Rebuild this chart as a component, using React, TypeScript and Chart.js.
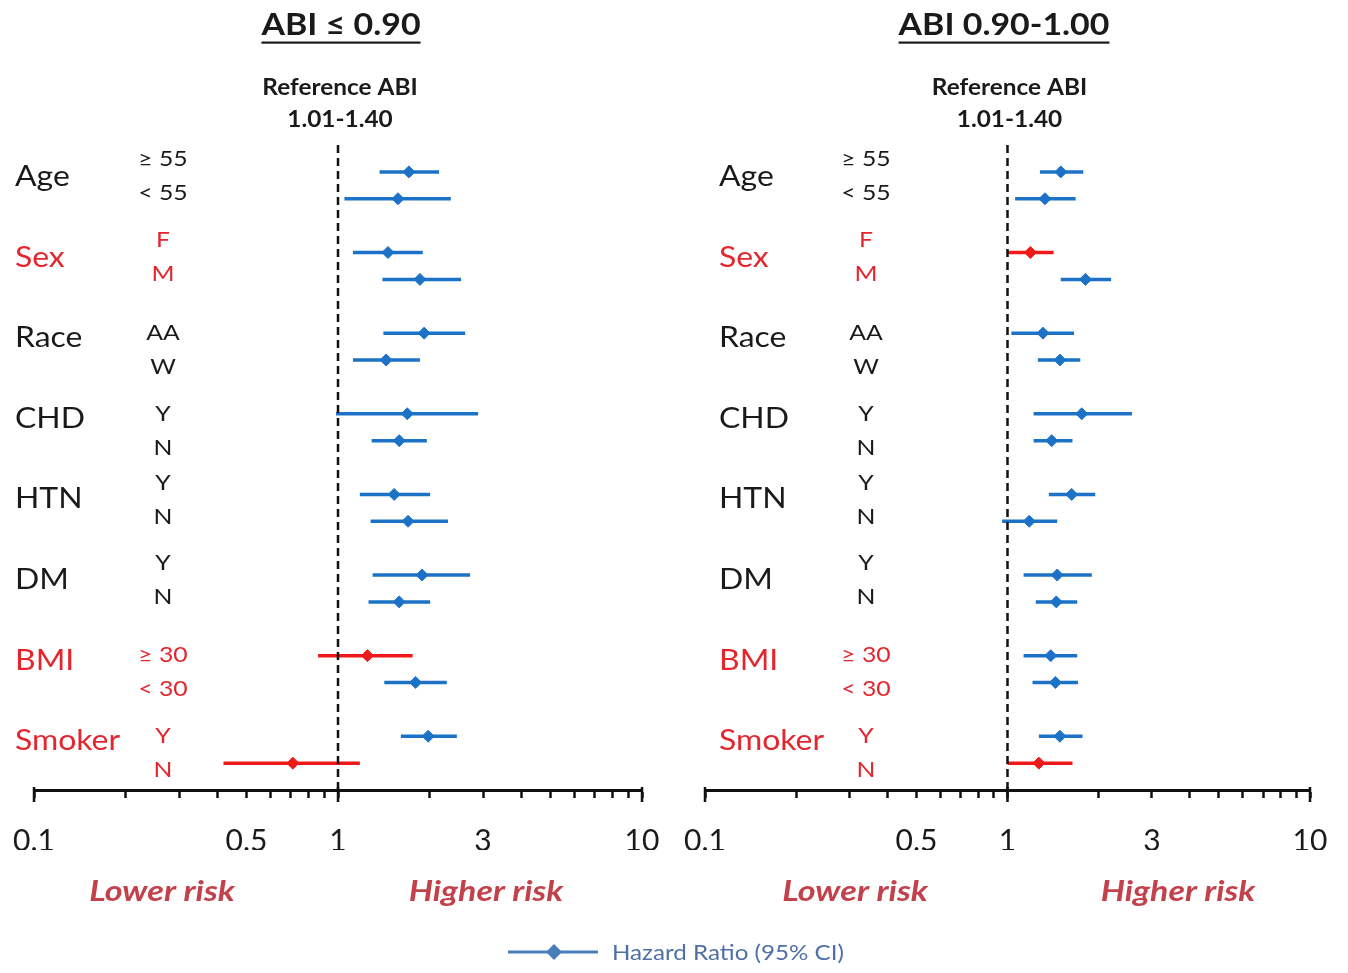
import React, { useEffect, useRef } from "react";
import { Chart, registerables } from "chart.js";

Chart.register(...registerables);

// ---------- DATA ----------
const groups = ["Age", "Sex", "Race", "CHD", "HTN", "DM", "BMI", "Smoker"];
const redGroups = [false, true, false, false, false, false, true, true];
const subLabels = ["≥ 55", "< 55", "F", "M", "AA", "W", "Y", "N", "Y", "N", "Y", "N", "≥ 30", "< 30", "Y", "N"];

// Panel 1: ABI ≤ 0.90
const hr1 = [1.71, 1.575, 1.46, 1.86, 1.92, 1.44, 1.69, 1.59, 1.53, 1.7, 1.89, 1.59, 1.25, 1.8, 1.98, 0.71];
const lo1 = [1.37, 1.05, 1.12, 1.4, 1.41, 1.12, 0.985, 1.29, 1.18, 1.28, 1.3, 1.26, 0.86, 1.42, 1.61, 0.42];
const hi1 = [2.15, 2.35, 1.9, 2.54, 2.62, 1.86, 2.89, 1.96, 2.01, 2.3, 2.72, 2.01, 1.76, 2.28, 2.46, 1.18];
const red1 = [12, 15];

// Panel 2: ABI 0.90-1.00
const hr2 = [1.5, 1.33, 1.19, 1.81, 1.31, 1.49, 1.76, 1.4, 1.63, 1.18, 1.46, 1.45, 1.39, 1.44, 1.49, 1.27];
const lo2 = [1.28, 1.06, 1.0, 1.5, 1.03, 1.26, 1.22, 1.22, 1.37, 0.96, 1.13, 1.24, 1.13, 1.21, 1.27, 1.0];
const hi2 = [1.78, 1.68, 1.42, 2.2, 1.66, 1.74, 2.58, 1.64, 1.95, 1.46, 1.9, 1.7, 1.7, 1.71, 1.77, 1.64];
const red2 = [2, 15];

const tickValues = [0.1, 0.2, 0.3, 0.4, 0.5, 0.6, 0.7, 0.8, 0.9, 1, 2, 3, 4, 5, 6, 7, 8, 9, 10];
const labeledTicks = [0.1, 0.5, 1, 3, 10];
const tickLabels = ["0.1", "0.5", "1", "3", "10"];
const majorTicks = [0.1, 1, 10];

const titles = ["ABI ≤ 0.90", "ABI 0.90-1.00"];
const refLines = ["Reference ABI", "1.01-1.40"];
const legendLabel = "Hazard Ratio (95% CI)";
const lowerText = "Lower risk";
const higherText = "Higher risk";

// ---------- STYLE / LAYOUT ----------
const W = 1348;
const H = 973;
const FONT = 'Lato, "Open Sans", "DejaVu Sans", sans-serif';
const BLUE = "#1c72c6";
const RED = "#f01818";
const LABEL_RED = "#e3262e";
const RISK_RED = "#c3414a";
const TEXT = "#1a1a1a";
// vertical offset (px) of the first sub-label relative to its row, per group
const subOffsets = [-12.5, -12.5, 0, 0, -11, -12, 0, 0];
const subGap = 34;

type Panel = {
  hr: number[];
  lo: number[];
  hi: number[];
  red: number[];
  title: string;
  titleX: number;
  padLeft: number;
  padRight: number;
  groupX: number;
  subX: number;
  lowerX: number;
  higherX: number;
  legend: boolean;
};

const panels: Panel[] = [
  { hr: hr1, lo: lo1, hi: hi1, red: red1, title: titles[0], titleX: 341, padLeft: 34, padRight: W - 642, groupX: 15, subX: 163, lowerX: 162, higherX: 486, legend: true },
  { hr: hr2, lo: lo2, hi: hi2, red: red2, title: titles[1], titleX: 1004, padLeft: 705, padRight: W - 1310, groupX: 719, subX: 866, lowerX: 855, higherX: 1178, legend: false },
];

const rowPos = groups.flatMap((_, g) => [g * 3, g * 3 + 1]);

function txt(
  ctx: CanvasRenderingContext2D,
  s: string,
  x: number,
  y: number,
  font: string,
  color: string,
  align: CanvasTextAlign,
  sx: number
) {
  ctx.save();
  ctx.font = font;
  ctx.fillStyle = color;
  ctx.textAlign = align;
  ctx.textBaseline = "middle";
  ctx.translate(x, y);
  ctx.scale(sx, 1);
  ctx.fillText(s, 0, 0);
  const w = ctx.measureText(s).width * sx;
  ctx.restore();
  return w;
}

function makePlugin(p: Panel) {
  return {
    id: "forestText",
    afterDraw(chart: any) {
      const ctx = chart.ctx as CanvasRenderingContext2D;
      const xs = chart.scales.x;
      const ys = chart.scales.y;
      const axisY = chart.chartArea.bottom;
      ctx.save();

      // longer major ticks
      ctx.strokeStyle = "#111";
      ctx.lineWidth = 2.5;
      majorTicks.forEach((v) => {
        const px = xs.getPixelForValue(v);
        ctx.beginPath();
        ctx.moveTo(px, axisY - 3);
        ctx.lineTo(px, axisY + 12);
        ctx.stroke();
      });

      const centerX = xs.getPixelForValue(1);

      // title with underline
      const tw = txt(ctx, p.title, p.titleX, 25, `bold 30px ${FONT}`, TEXT, "center", 1.13);
      ctx.fillStyle = TEXT;
      ctx.fillRect(p.titleX - tw / 2, 41.5, tw, 2.2);

      // reference ABI
      txt(ctx, refLines[0], centerX + 2, 88, `bold 23px ${FONT}`, TEXT, "center", 1.06);
      txt(ctx, refLines[1], centerX + 2, 120, `bold 23px ${FONT}`, TEXT, "center", 1.06);

      // group labels and sub labels
      groups.forEach((g, gi) => {
        const row1 = ys.getPixelForValue(rowPos[gi * 2]);
        const y1 = row1 + subOffsets[gi];
        const y2 = y1 + subGap;
        const color = redGroups[gi] ? LABEL_RED : TEXT;
        txt(ctx, g, p.groupX, row1 + 5, `28px ${FONT}`, color, "left", 1.14);
        txt(ctx, subLabels[gi * 2], p.subX, y1, `21px ${FONT}`, color, "center", 1.18);
        txt(ctx, subLabels[gi * 2 + 1], p.subX, y2, `21px ${FONT}`, color, "center", 1.18);
      });

      // lower / higher risk
      txt(ctx, lowerText, p.lowerX, 892, `italic bold 28px ${FONT}`, RISK_RED, "center", 1.22);
      txt(ctx, higherText, p.higherX, 892, `italic bold 28px ${FONT}`, RISK_RED, "center", 1.21);

      // legend
      if (p.legend) {
        const ly = 952;
        ctx.strokeStyle = "#4a7ebb";
        ctx.lineWidth = 3;
        ctx.beginPath();
        ctx.moveTo(508, ly);
        ctx.lineTo(598, ly);
        ctx.stroke();
        ctx.fillStyle = "#4a7ebb";
        ctx.beginPath();
        ctx.moveTo(554, ly - 8);
        ctx.lineTo(562, ly);
        ctx.lineTo(554, ly + 8);
        ctx.lineTo(546, ly);
        ctx.closePath();
        ctx.fill();
        txt(ctx, legendLabel, 612, ly + 1, `21px ${FONT}`, "#4f6fa6", "left", 1.15);
      }
      ctx.restore();
    },
  };
}

function buildChart(canvas: HTMLCanvasElement, p: Panel) {
  const datasets: any[] = [];
  // dashed reference line at HR = 1
  datasets.push({
    type: "line",
    data: [{ x: 1, y: -1 }, { x: 1, y: 23 }],
    borderColor: "#111",
    borderWidth: 2.5,
    borderDash: [8, 5],
    pointRadius: 0,
    order: 1,
  });
  // CI lines
  p.hr.forEach((_, i) => {
    const isRed = p.red.includes(i);
    datasets.push({
      type: "line",
      data: [{ x: p.lo[i], y: rowPos[i] }, { x: p.hi[i], y: rowPos[i] }],
      borderColor: isRed ? RED : BLUE,
      borderWidth: 3.5,
      pointRadius: 0,
      order: 3,
    });
  });
  // point estimates
  datasets.push({
    type: "scatter",
    data: p.hr.map((v, i) => ({ x: v, y: rowPos[i] })),
    pointStyle: "rectRot",
    pointRadius: 6,
    backgroundColor: p.hr.map((_, i) => (p.red.includes(i) ? RED : BLUE)),
    borderColor: p.hr.map((_, i) => (p.red.includes(i) ? RED : BLUE)),
    borderWidth: 1,
    order: 2,
  });

  return new Chart(canvas, {
    type: "scatter",
    data: { datasets },
    plugins: [makePlugin(p)],
    options: {
      responsive: false,
      animation: false,
      events: [],
      layout: { padding: { left: p.padLeft, right: p.padRight, top: 145, bottom: H - 790 - 60 } },
      plugins: { legend: { display: false }, tooltip: { enabled: false }, title: { display: false } },
      scales: {
        x: {
          type: "logarithmic",
          position: "bottom",
          min: 0.1,
          max: 10,
          afterBuildTicks: (scale: any) => {
            scale.ticks = tickValues.map((v) => ({ value: v }));
          },
          afterFit: (scale: any) => {
            scale.height = 60;
            scale.paddingLeft = 0;
            scale.paddingRight = 0;
          },
          ticks: {
            autoSkip: false,
            maxRotation: 0,
            minRotation: 0,
            padding: 25,
            color: TEXT,
            font: { family: FONT, size: 30 },
            callback: (v: any) => {
              const idx = labeledTicks.findIndex((t) => Math.abs(t - Number(v)) < 1e-9);
              return idx >= 0 ? tickLabels[idx] : "";
            },
          },
          grid: {
            display: true,
            drawOnChartArea: false,
            drawTicks: true,
            tickLength: 8,
            tickWidth: 2.5,
            tickColor: "#111",
          },
          border: { display: true, color: "#111", width: 3 },
        },
        y: {
          type: "linear",
          display: false,
          min: -1,
          max: 23,
          reverse: true,
        },
      },
    } as any,
  });
}

export default function App() {
  const ref1 = useRef<HTMLCanvasElement>(null);
  const ref2 = useRef<HTMLCanvasElement>(null);

  useEffect(() => {
    const c1 = buildChart(ref1.current!, panels[0]);
    const c2 = buildChart(ref2.current!, panels[1]);
    return () => {
      c1.destroy();
      c2.destroy();
    };
  }, []);

  const cs: React.CSSProperties = { position: "absolute", left: 0, top: 0, width: W, height: H };
  return (
    <div style={{ position: "fixed", left: 0, top: 0, width: W, height: H, background: "#fff" }}>
      <canvas ref={ref1} width={W} height={H} style={cs} />
      <canvas ref={ref2} width={W} height={H} style={cs} />
    </div>
  );
}
